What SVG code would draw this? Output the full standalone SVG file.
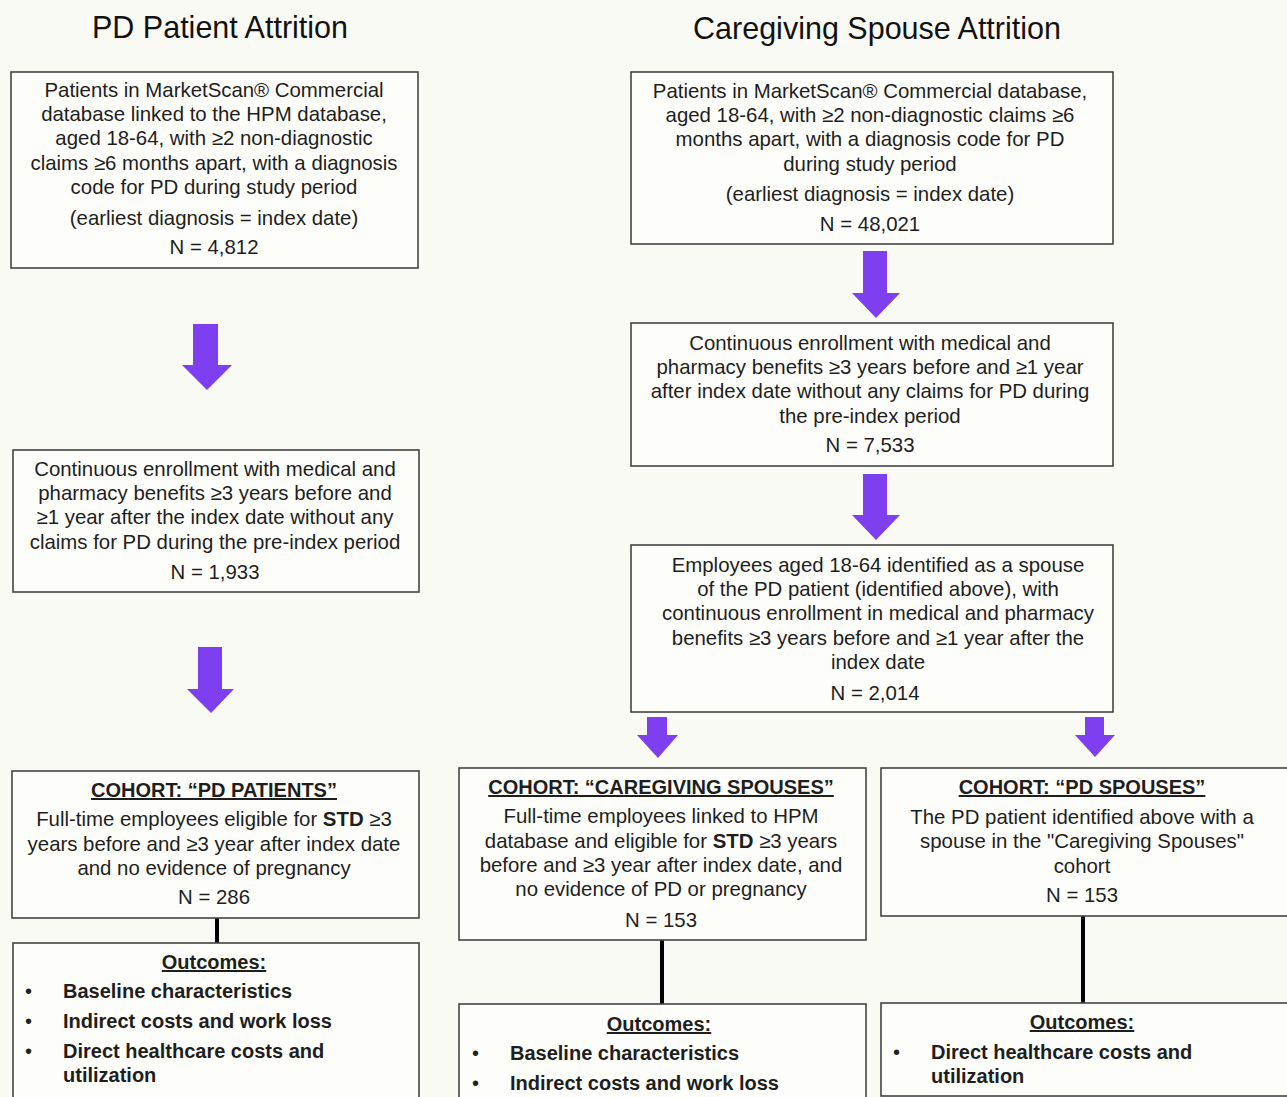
<svg xmlns="http://www.w3.org/2000/svg" width="1287" height="1097" viewBox="0 0 1287 1097">
<style>
.bg{fill:#fafaf5}
.box{fill:#fdfdfa;stroke:#444;stroke-width:1.6}
.t{font-family:"Liberation Sans",Arial,sans-serif;font-size:20.4px;fill:#1e1e1e;text-anchor:middle}
.title{font-family:"Liberation Sans",Arial,sans-serif;font-size:30.5px;fill:#111;text-anchor:middle}
.h{font-family:"Liberation Sans",Arial,sans-serif;font-size:20px;font-weight:bold;fill:#1e1e1e;text-anchor:middle;text-decoration:underline}
.b{font-family:"Liberation Sans",Arial,sans-serif;font-size:20px;font-weight:bold;fill:#1e1e1e}
.bul{font-family:"Liberation Sans",Arial,sans-serif;font-size:20px;fill:#1e1e1e}
.arrow{fill:#7d3ff0}
.conn{stroke:#000;stroke-width:4;fill:none}
</style>
<rect class="bg" x="0" y="0" width="1287" height="1097"/>
<text class="title" x="220" y="38">PD Patient Attrition</text>
<text class="title" x="877" y="39">Caregiving Spouse Attrition</text>

<g id="connectors">
<polygon class="arrow" points="193,324 218,324 218,365 232,365 207,390 182,365 193,365"/>
<polygon class="arrow" points="198,647 222,647 222,689 234,689 211,713 187,689 198,689"/>
<polygon class="arrow" points="863,251 887,251 887,293 900,293 876,318 852,293 863,293"/>
<polygon class="arrow" points="863,474 887,474 887,515 900,515 876,540 852,515 863,515"/>
<polygon class="arrow" points="647,717 667,717 667,735 678,735 658,758 637,735 647,735"/>
<polygon class="arrow" points="1085,717 1104,717 1104,735 1115,735 1095,757 1075,735 1085,735"/>
<line class="conn" x1="217" y1="918" x2="217" y2="943"/>
<line class="conn" x1="662" y1="940" x2="662" y2="1005"/>
<line class="conn" x1="1083" y1="916" x2="1083" y2="1003"/>
</g>

<g id="pd-initial">
<rect class="box" x="11" y="72" width="407" height="196"/>
<text class="t" x="214" y="97">Patients in MarketScan® Commercial</text>
<text class="t" x="214" y="121">database linked to the HPM database,</text>
<text class="t" x="214" y="145">aged 18-64, with ≥2 non-diagnostic</text>
<text class="t" x="214" y="170">claims ≥6 months apart, with a diagnosis</text>
<text class="t" x="214" y="194">code for PD during study period</text>
<text class="t" x="214" y="225">(earliest diagnosis = index date)</text>
<text class="t" x="214" y="254">N = 4,812</text>
</g>

<g id="pd-enrollment">
<rect class="box" x="13" y="450" width="406" height="142"/>
<text class="t" x="215" y="476">Continuous enrollment with medical and</text>
<text class="t" x="215" y="500">pharmacy benefits ≥3 years before and</text>
<text class="t" x="215" y="524">≥1 year after the index date without any</text>
<text class="t" x="215" y="549">claims for PD during the pre-index period</text>
<text class="t" x="215" y="579">N = 1,933</text>
</g>

<g id="cohort-pd-patients">
<rect class="box" x="12" y="771" width="407" height="147"/>
<text class="h" x="214" y="797">COHORT: “PD PATIENTS”</text>
<text class="t" x="214" y="826">Full-time employees eligible for <tspan font-weight="bold">STD</tspan> ≥3</text>
<text class="t" x="214" y="851">years before and ≥3 year after index date</text>
<text class="t" x="214" y="875">and no evidence of pregnancy</text>
<text class="t" x="214" y="904">N = 286</text>
</g>

<g id="outcomes-pd-patients">
<rect class="box" x="13" y="943" width="406" height="170"/>
<text class="h" x="214" y="969">Outcomes:</text>
<text class="bul" x="25" y="998">•</text>
<text class="b" x="63" y="998">Baseline characteristics</text>
<text class="bul" x="25" y="1028">•</text>
<text class="b" x="63" y="1028">Indirect costs and work loss</text>
<text class="bul" x="25" y="1058">•</text>
<text class="b" x="63" y="1058">Direct healthcare costs and</text>
<text class="b" x="63" y="1082">utilization</text>
</g>

<g id="spouse-initial">
<rect class="box" x="631" y="72" width="482" height="172"/>
<text class="t" x="870" y="98">Patients in MarketScan® Commercial database,</text>
<text class="t" x="870" y="122">aged 18-64, with ≥2 non-diagnostic claims ≥6</text>
<text class="t" x="870" y="146">months apart, with a diagnosis code for PD</text>
<text class="t" x="870" y="171">during study period</text>
<text class="t" x="870" y="201">(earliest diagnosis = index date)</text>
<text class="t" x="870" y="231">N = 48,021</text>
</g>

<g id="spouse-enrollment">
<rect class="box" x="631" y="323" width="482" height="143"/>
<text class="t" x="870" y="350">Continuous enrollment with medical and</text>
<text class="t" x="870" y="374">pharmacy benefits ≥3 years before and ≥1 year</text>
<text class="t" x="870" y="398">after index date without any claims for PD during</text>
<text class="t" x="870" y="423">the pre-index period</text>
<text class="t" x="870" y="452">N = 7,533</text>
</g>

<g id="spouse-employees">
<rect class="box" x="631" y="545" width="482" height="167"/>
<text class="t" x="878" y="572">Employees aged 18-64 identified as a spouse</text>
<text class="t" x="878" y="596">of the PD patient (identified above), with</text>
<text class="t" x="878" y="620">continuous enrollment in medical and pharmacy</text>
<text class="t" x="878" y="645">benefits ≥3 years before and ≥1 year after the</text>
<text class="t" x="878" y="669">index date</text>
<text class="t" x="875" y="700">N = 2,014</text>
</g>

<g id="cohort-caregiving-spouses">
<rect class="box" x="459" y="768" width="407" height="172"/>
<text class="h" x="661" y="794">COHORT: “CAREGIVING SPOUSES”</text>
<text class="t" x="661" y="823">Full-time employees linked to HPM</text>
<text class="t" x="661" y="848">database and eligible for <tspan font-weight="bold">STD</tspan> ≥3 years</text>
<text class="t" x="661" y="872">before and ≥3 year after index date, and</text>
<text class="t" x="661" y="896">no evidence of PD or pregnancy</text>
<text class="t" x="661" y="927">N = 153</text>
</g>

<g id="outcomes-caregiving-spouses">
<rect class="box" x="459" y="1004" width="407" height="110"/>
<text class="h" x="659" y="1031">Outcomes:</text>
<text class="bul" x="472" y="1060">•</text>
<text class="b" x="510" y="1060">Baseline characteristics</text>
<text class="bul" x="472" y="1090">•</text>
<text class="b" x="510" y="1090">Indirect costs and work loss</text>
</g>

<g id="cohort-pd-spouses">
<rect class="box" x="881" y="768" width="410" height="148"/>
<text class="h" x="1082" y="794">COHORT: “PD SPOUSES”</text>
<text class="t" x="1082" y="824">The PD patient identified above with a</text>
<text class="t" x="1082" y="848">spouse in the "Caregiving Spouses"</text>
<text class="t" x="1082" y="873">cohort</text>
<text class="t" x="1082" y="902">N = 153</text>
</g>

<g id="outcomes-pd-spouses">
<rect class="box" x="881" y="1003" width="410" height="93"/>
<text class="h" x="1082" y="1029">Outcomes:</text>
<text class="bul" x="893" y="1059">•</text>
<text class="b" x="931" y="1059">Direct healthcare costs and</text>
<text class="b" x="931" y="1083">utilization</text>
</g>
</svg>
